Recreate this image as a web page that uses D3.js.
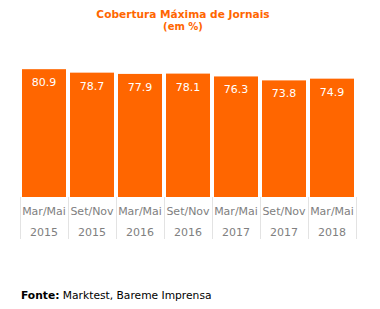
<!DOCTYPE html>
<html><head><meta charset="utf-8">
<script src="https://cdn.jsdelivr.net/npm/d3@7"></script>
<style>body{margin:0;background:#fff}svg{display:block}</style>
</head><body>
<script>
const periods = ["Mar/Mai","Set/Nov","Mar/Mai","Set/Nov","Mar/Mai","Set/Nov","Mar/Mai"];
const years = ["2015","2015","2016","2016","2017","2017","2018"];
const values = [80.9, 78.7, 77.9, 78.1, 76.3, 73.8, 74.9];
const title = "Cobertura Máxima de Jornais";
const subtitle = "(em %)";

const W = 380, H = 309;
const orange = "#ff6600";
const svg = d3.select("body").append("svg").attr("width", W).attr("height", H);
const font = "DejaVu Sans, Verdana, sans-serif";

const idx = d3.range(values.length);
const x = d3.scaleBand().domain(idx).range([20, 356]).paddingInner(4/48).paddingOuter(2/48);
const y = d3.scaleLinear().domain([0, 100]).range([197, 39]);
const step = x.step();

svg.append("text").attr("x", 183).attr("y", 18).attr("text-anchor", "middle")
  .attr("font-family", font).attr("font-weight", "bold").attr("font-size", 10.6)
  .attr("fill", orange).text(title);
svg.append("text").attr("x", 183).attr("y", 29.5).attr("text-anchor", "middle")
  .attr("font-family", font).attr("font-weight", "bold").attr("font-size", 10)
  .attr("fill", orange).text(subtitle);

// separators
const bounds = idx.map(i => x(i) - step * x.paddingInner() / 2).concat([x(idx.length-1) + x.bandwidth() + step * x.paddingInner() / 2]);
svg.append("g").selectAll("line").data(bounds).join("line")
  .attr("x1", d => Math.round(d) + 0.5).attr("x2", d => Math.round(d) + 0.5)
  .attr("y1", 197).attr("y2", 239)
  .attr("stroke", "#e3e3e3").attr("stroke-width", 1);

svg.append("g").selectAll("rect").data(idx).join("rect")
  .attr("x", i => x(i)).attr("width", x.bandwidth())
  .attr("y", i => y(values[i])).attr("height", i => y(0) - y(values[i]))
  .attr("fill", orange);

svg.append("g").selectAll("text").data(idx).join("text")
  .attr("x", i => x(i) + x.bandwidth() / 2).attr("y", i => y(values[i]) + 17)
  .attr("text-anchor", "middle").attr("font-family", font).attr("font-size", 11)
  .attr("fill", "#fff").text(i => values[i].toFixed(1));

const axis = svg.append("g").attr("transform", "translate(0,197)")
  .call(d3.axisBottom(x).tickSize(0).tickFormat(i => periods[i]));
axis.select(".domain").remove();
axis.selectAll("text").attr("font-family", font).attr("font-size", 11).attr("fill", "#808080")
  .attr("dy", null).attr("y", 18);
axis.selectAll(".tick").append("text").attr("font-family", font).attr("font-size", 11)
  .attr("fill", "#808080").attr("y", 39).attr("text-anchor", "middle").text(i => years[i]);

const foot = svg.append("text").attr("x", 21).attr("y", 299).attr("font-family", font)
  .attr("font-size", 10.7).attr("fill", "#000");
foot.append("tspan").attr("font-weight", "bold").text("Fonte:");
foot.append("tspan").text(" Marktest, Bareme Imprensa");
</script>
</body></html>
